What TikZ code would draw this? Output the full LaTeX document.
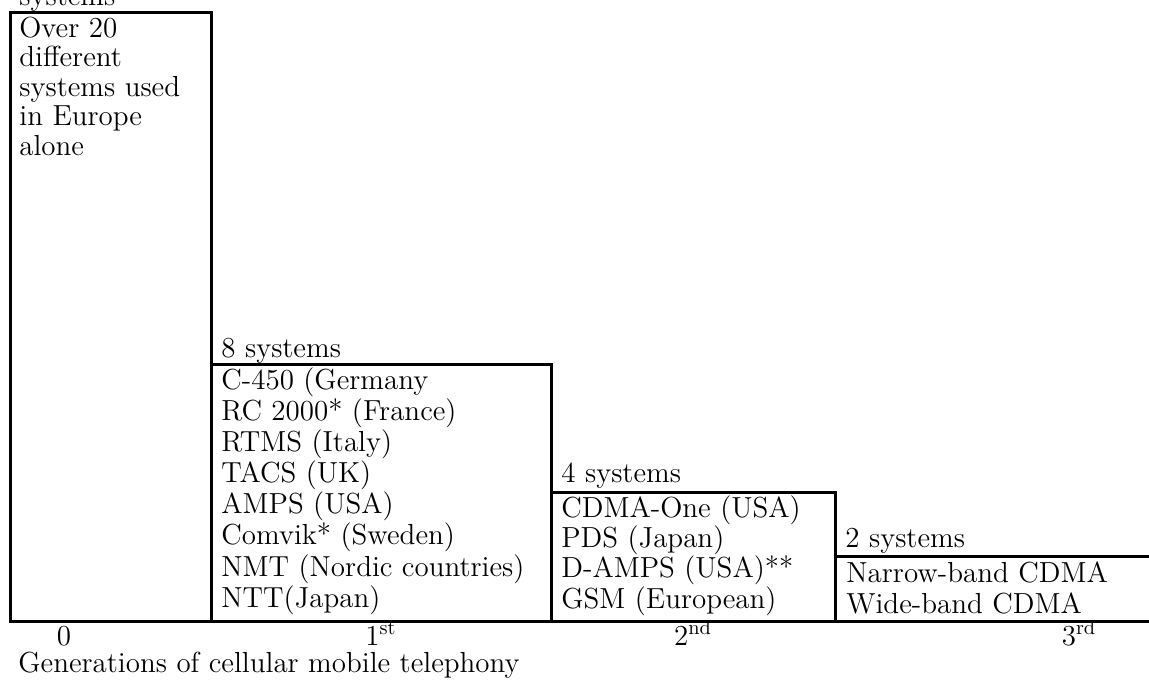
\documentclass[tikz,border=0pt]{standalone}
\usepackage{tikz}

\newlength{\du}
\setlength{\du}{0.5pt}

\tikzset{
  genbox/.style={draw=black, fill=white, line width=3\du, line join=miter},
  entry/.style={anchor=base west, inner sep=0pt, font=\fontsize{14.5}{17}\selectfont},
  genlabel/.style={anchor=base, inner sep=0pt, font=\fontsize{14.5}{17}\selectfont}
}

\begin{document}
\begin{tikzpicture}
\pgftransformxscale{1.000000}
\pgftransformyscale{-1.000000}
\useasboundingbox (0\du,0\du) rectangle (1149\du,680\du);
% generation 0
\draw[genbox] (10\du,12.5\du)--(10\du,621\du)--(211\du,621\du)--(211\du,12.5\du)--cycle;
\node[entry] (g0head) at (19\du,5\du){systems};
\node[entry] (g0a) at (19\du,37\du){Over 20};
\node[entry] (g0b) at (19\du,66.5\du){different};
\node[entry] (g0c) at (19\du,96\du){systems used};
\node[entry] (g0d) at (19\du,125.5\du){in Europe};
\node[entry] (g0e) at (19\du,155\du){alone};
% generation 1
\draw[genbox] (211\du,364\du)--(211\du,621\du)--(551\du,621\du)--(551\du,364\du)--cycle;
\node[entry] (g1head) at (221\du,357\du){8 systems};
\node[entry] (g1a) at (221\du,389\du){C-450 (Germany};
\node[entry] (g1b) at (221\du,420\du){RC 2000* (France)};
\node[entry] (g1c) at (221\du,451\du){RTMS (Italy)};
\node[entry] (g1d) at (221\du,482\du){TACS (UK)};
\node[entry] (g1e) at (221\du,513\du){AMPS (USA)};
\node[entry] (g1f) at (221\du,544.5\du){Comvik* (Sweden)};
\node[entry] (g1g) at (221\du,576\du){NMT (Nordic countries)};
\node[entry] (g1h) at (221\du,607.5\du){NTT(Japan)};
% generation 2
\draw[genbox] (551\du,492.5\du)--(551\du,621\du)--(835\du,621\du)--(835\du,492.5\du)--cycle;
\node[entry] (g2head) at (561\du,482\du){4 systems};
\node[entry] (g2a) at (561\du,517\du){CDMA-One (USA)};
\node[entry] (g2b) at (561\du,547\du){PDS (Japan)};
\node[entry] (g2c) at (561\du,577.5\du){D-AMPS (USA)**};
\node[entry] (g2d) at (561\du,608\du){GSM (European)};
% generation 3
\draw[genbox] (835\du,556\du)--(835\du,621\du)--(1170\du,621\du)--(1170\du,556\du)--cycle;
\node[entry] (g3head) at (845\du,547\du){2 systems};
\node[entry] (g3a) at (846\du,582.5\du){Narrow-band CDMA};
\node[entry] (g3b) at (846\du,613\du){Wide-band CDMA};
% axis labels
\node[genlabel] (n0) at (64\du,645\du){0};
\node[genlabel] (n1) at (381\du,645\du){1\textsuperscript{st}};
\node[genlabel] (n2) at (693\du,645\du){2\textsuperscript{nd}};
\node[genlabel] (n3) at (1079\du,645\du){3\textsuperscript{rd}};
\node[entry] (axis) at (18\du,672\du){Generations of cellular mobile telephony};
\end{tikzpicture}
\end{document}
